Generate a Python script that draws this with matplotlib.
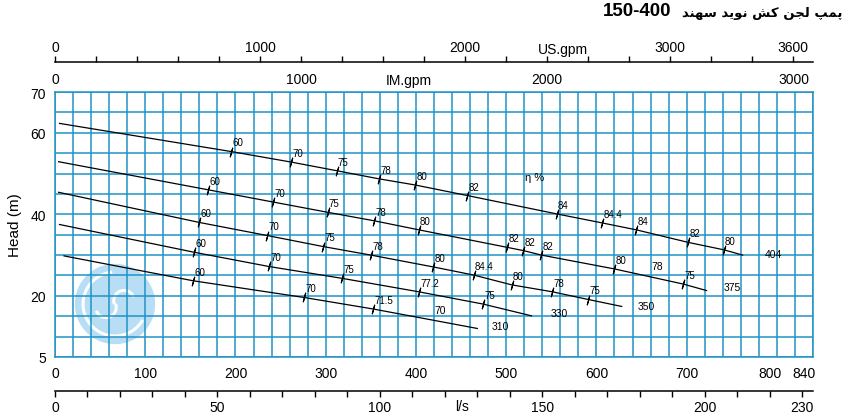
import numpy as np
import matplotlib
matplotlib.use('Agg')
import matplotlib.pyplot as plt
from matplotlib.patches import Circle, Arc
from matplotlib.ticker import MultipleLocator
import matplotlib.transforms as mtransforms

plt.rcParams['font.family'] = ['Liberation Sans', 'DejaVu Sans']

# ---------------- data ----------------
flow_ticks = [0, 100, 200, 300, 400, 500, 600, 700, 800, 840]      # m3/h
head_ticks = [5, 20, 40, 60, 70]                                     # m
usgpm_ticks = list(range(0, 3601, 200))
usgpm_labels = ['0', '1000', '2000', '3000', '3600']
imgpm_labels = ['0', '1000', '2000', '3000']
ls_ticks = list(range(0, 231, 10))
ls_labels = ['0', '50', '100', '150', '200', '230']

# impeller curves: start / end points (m3/h, m)
q_start_404, h_start_404, q_end_404, h_end_404 = 5, 62.3, 762, 30.0
q_start_375, h_start_375, q_end_375, h_end_375 = 4, 52.9, 722, 21.3
q_start_350, h_start_350, q_end_350, h_end_350 = 4, 45.4, 628, 17.4
q_start_330, h_start_330, q_end_330, h_end_330 = 5, 37.5, 528, 15.1
q_start_310, h_start_310, q_end_310, h_end_310 = 10, 29.8, 468, 12.0

# efficiency marks on each curve
eq_404 = [195, 262, 312, 359, 399, 457, 556, 606, 644, 702, 741]
eh_404 = [55.4, 52.8, 50.7, 48.7, 47.2, 44.6, 40.1, 37.9, 36.2, 33.1, 31.3]
el_404 = ['60', '70', '75', '78', '80', '82', '84', '84.4', '84', '82', '80']

eq_375 = [170, 242, 302, 354, 403, 501, 519, 539, 620, 696]
eh_375 = [46.0, 43.0, 40.5, 38.4, 36.2, 31.9, 31.1, 30.0, 26.6, 22.9]
el_375 = ['60', '70', '75', '78', '80', '82', '82', '82', '80', '75']

eq_350 = [160, 235, 297, 350, 419, 464, 506, 551, 591]
eh_350 = [38.0, 34.8, 32.1, 30.0, 27.1, 25.1, 22.7, 21.0, 19.1]
el_350 = ['60', '70', '75', '78', '80', '84.4', '80', '78', '75']

eq_330 = [154, 237, 318, 403, 474]
eh_330 = [30.7, 27.2, 24.3, 21.0, 18.0]
el_330 = ['60', '70', '75', '77.2', '75']

eq_310 = [153, 276, 352]
eh_310 = [23.7, 19.6, 16.8]
el_310 = ['60', '70', '71.5']

# free efficiency labels (no tick mark)
free_q = [667, 427]
free_h = [27.2, 16.6]
free_l = ['78', '70']

# curve name labels
name_q = [796, 750, 655, 559, 493]
name_h = [30.3, 22.1, 17.6, 15.8, 12.7]
names = ['404', '375', '350', '330', '310']

title_model = '150-400'
# Persian words shaped in visual (left-to-right) order
title_words = ['\uFEAA\uFEE8\uFEEC\uFEB3', '\uFEAA\uFEF3\uFEEE\uFEE7', '\uFEB6\uFEDB',
               '\uFEE6\uFEA0\uFEDF', '\uFB57\uFEE4\uFB58']

GRID = '#1f93c4'

# ---------------- figure ----------------
fig = plt.figure(figsize=(8.5, 4.14), dpi=100)
W, H = 850, 414
L, R, T, B = 55, 813, 93, 358
ax = fig.add_axes([L / W, (H - B) / H, (R - L) / W, (B - T) / H])
ax.set_zorder(2)
ax.patch.set_alpha(0)

ax.set_xlim(0, 840)
ax.set_ylim(5, 70)
ax.set_xticks(flow_ticks)
ax.set_yticks(head_ticks)
ax.xaxis.set_minor_locator(MultipleLocator(20))
ax.yaxis.set_minor_locator(MultipleLocator(5))
ax.grid(which='both', color=GRID, lw=1.1)
ax.tick_params(which='both', length=0)
ax.tick_params(axis='x', pad=6.5, labelsize=10)
ax.tick_params(axis='y', pad=6.5, labelsize=10)
for s in ax.spines.values():
    s.set_color(GRID)
    s.set_linewidth(1.1)
ax.set_ylabel('Head (m)', fontsize=11, labelpad=6)

# nudge crowded right-hand labels
labs = ax.get_xticklabels()
labs[-1].set_horizontalalignment('right')
labs[-1].set_transform(labs[-1].get_transform() + mtransforms.ScaledTranslation(2 / 72, 0, fig.dpi_scale_trans))
labs[-2].set_transform(labs[-2].get_transform() + mtransforms.ScaledTranslation(-5 / 72, 0, fig.dpi_scale_trans))

# curves
curves = [
    (q_start_404, h_start_404, q_end_404, h_end_404, eq_404, eh_404, el_404),
    (q_start_375, h_start_375, q_end_375, h_end_375, eq_375, eh_375, el_375),
    (q_start_350, h_start_350, q_end_350, h_end_350, eq_350, eh_350, el_350),
    (q_start_330, h_start_330, q_end_330, h_end_330, eq_330, eh_330, el_330),
    (q_start_310, h_start_310, q_end_310, h_end_310, eq_310, eh_310, el_310),
]
for qs, hs, qe, he, eq, eh, el in curves:
    qq = [qs] + list(eq) + [qe]
    hh = [hs] + list(eh) + [he]
    ax.plot(qq, hh, color='black', lw=0.9, zorder=3)
    ax.plot(eq, eh, ls='none', marker=(2, 2, -15), ms=7, mew=0.8, color='black', zorder=3)
    for x, y, t in zip(eq, eh, el):
        ax.annotate(t, (x, y), xytext=(1, 6.5), textcoords='offset points',
                    ha='left', va='center', fontsize=7, zorder=4)

for x, y, t in zip(free_q, free_h, free_l):
    ax.text(x, y, t, ha='center', va='center', fontsize=7.5)
for x, y, t in zip(name_q, name_h, names):
    ax.text(x, y, t, ha='center', va='center', fontsize=7.5)
ax.text(532, 49.2, '\u03b7 %', ha='center', va='center', fontsize=8)

# ---- secondary scales ----
us = ax.secondary_xaxis(1 + (T - 62.7) / (B - T),
                        functions=(lambda x: x / 0.227125, lambda g: g * 0.227125))
us.set_xticks(usgpm_ticks, [str(v) if str(v) in usgpm_labels else '' for v in usgpm_ticks])
us.tick_params(length=4, width=1, pad=1.5, labelsize=10, direction='out')
for k, s in us.spines.items():
    s.set_visible(k == 'top')
    s.set_linewidth(1.1)

im = ax.secondary_xaxis('top', functions=(lambda x: x / 0.272765, lambda g: g * 0.272765))
im.set_xticks([int(v) for v in imgpm_labels], imgpm_labels)
im.tick_params(length=0, pad=4, labelsize=10)
for s in im.spines.values():
    s.set_visible(False)

ls = ax.secondary_xaxis(-(391.7 - B) / (B - T), functions=(lambda x: x / 3.6, lambda v: v * 3.6))
ls.set_xticks(ls_ticks, [str(v) if str(v) in ls_labels else '' for v in ls_ticks])
ls.set_xticks([230], ['230'], minor=True)
ls.tick_params(which='both', length=4, width=1, pad=3, labelsize=10, direction='out')
for k, s in ls.spines.items():
    s.set_visible(k == 'bottom')
    s.set_linewidth(1.1)

# axis unit labels placed on the scale rows
yf_us = (H - 50) / H
yf_im = (H - 81) / H
yf_ls = (H - 406.7) / H
bt = mtransforms.blended_transform_factory(ax.transData, fig.transFigure)
ax.text(563, yf_us, 'US.gpm', transform=bt, ha='center', va='center', fontsize=10)
ax.text(392, yf_im, 'IM.gpm', transform=bt, ha='center', va='center', fontsize=10)
ax.text(451, yf_ls, 'l/s', transform=bt, ha='center', va='center', fontsize=10)

# title: Persian part on the right, model number to its left
t_ar = fig.text(842 / W, (H - 13) / H, ' '.join(title_words), ha='right', va='center',
                fontsize=9.5, fontweight='bold', family=['DejaVu Sans'])
fig.canvas.draw()
bb = t_ar.get_window_extent()
fig.text((bb.x0 - 10) / W, (H - 12) / H, title_model, ha='right', va='center',
         fontsize=13.5, fontweight='bold')

# logo watermark
lg = fig.add_axes([(115 - 41) / W, (H - 305 - 41) / H, 82 / W, 82 / H])
lg.set_zorder(1)
lg.set_xlim(-1, 1)
lg.set_ylim(-1, 1)
lg.set_aspect('equal')
lg.axis('off')
lg.add_patch(Circle((0, 0), 0.98, color='#b8def5', lw=0))
lg.add_patch(Arc((0, 0), 1.56, 1.56, theta1=95, theta2=330, color='white', lw=2.2))
lg.add_patch(Arc((0.22, 0.08), 0.5, 0.5, angle=20, theta1=0, theta2=180, color='white', lw=2.2))
lg.add_patch(Arc((-0.22, -0.08), 0.5, 0.5, angle=20, theta1=180, theta2=360, color='white', lw=2.2))

fig.savefig('out.png', dpi=100)
